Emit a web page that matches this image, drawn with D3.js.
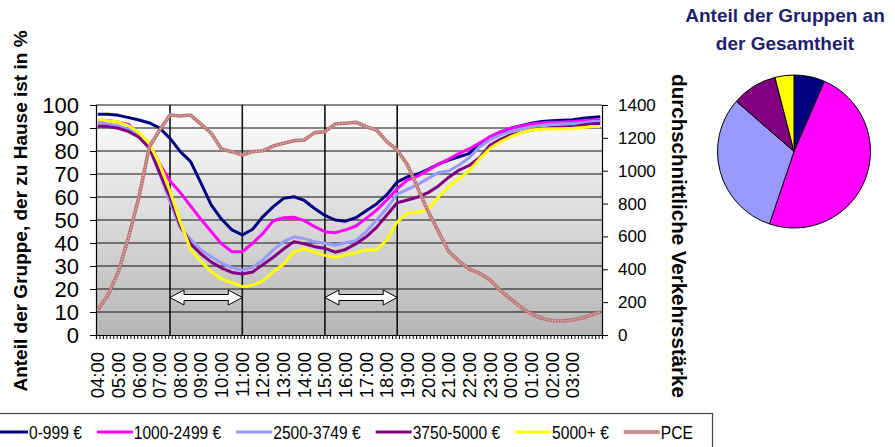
<!DOCTYPE html>
<html>
<head>
<meta charset="utf-8">
<script src="https://cdn.jsdelivr.net/npm/d3@7/dist/d3.min.js"></script>
<style>
  body { margin: 0; background: #fff; }
  svg { display: block; }
  text { font-family: "Liberation Sans", Arial, sans-serif; fill: #000; }
</style>
</head>
<body>
<svg id="chart" width="895" height="447"></svg>
<script>
// ---- data -------------------------------------------------------------
const hourLabels = ["04:00","05:00","06:00","07:00","08:00","09:00","10:00","11:00",
  "12:00","13:00","14:00","15:00","16:00","17:00","18:00","19:00","20:00","21:00",
  "22:00","23:00","00:00","01:00","02:00","03:00"];

const sampleTimes = ["04:00","04:30","05:00","05:30","06:00","06:30","07:00","07:30",
  "08:00","08:30","09:00","09:30","10:00","10:30","11:00","11:30","12:00","12:30",
  "13:00","13:30","14:00","14:30","15:00","15:30","16:00","16:30","17:00","17:30",
  "18:00","18:30","19:00","19:30","20:00","20:30","21:00","21:30","22:00","22:30",
  "23:00","23:30","00:00","00:30","01:00","01:30","02:00","02:30","03:00","03:30",
  "04:00","04:20"];

const groupNames  = ["0-999 €","1000-2499 €","2500-3749 €","3750-5000 €","5000+ €"];
const groupColors = ["#000080","#ff00ff","#9999ff","#800080","#ffff00"];

const home0to999 = [96,96,95.5,94.5,93.5,92.2,90,85.5,79.7,75.4,66,56.5,50.3,45.7,43.5,46,
  51.5,55.8,59.4,60.1,58.5,55,52,50,49.5,51,54,57,61,66.5,68.8,70,72,74.3,76,77.5,79,
  83.2,86.2,88,89.9,91,92.1,92.8,93.2,93.4,93.6,94.2,94.7,94.9];
const home1000to2499 = [93.5,93.3,92.5,91.5,87,83,74.5,67,61.9,56,50.3,44.9,39.6,36.2,36.2,
  39.9,44.2,49.7,51,51.2,49.7,47.1,44.9,44.5,45.7,47.4,50.7,54.3,58.7,63.6,67.4,69.1,71.7,
  74.3,76.5,79,81,83.6,86.2,88.4,89.9,90.9,91.7,92.2,92.5,92.6,92.8,93.2,93.5,93.5];
const home2500to3749 = [92.3,91.7,90.9,89.4,87,82.6,70,58,46.5,41.6,37,34,31.2,29.3,28.3,
  29.4,32.6,37,40.6,42.7,41.9,40.6,39.9,39,40.1,41,44.9,50,55.1,61.3,63.3,65.5,68.1,70.6,
  71.4,73.9,77.2,81.9,84.8,87,88.4,89.6,90.6,91.2,91.6,91.9,92,92.3,92.8,92.8];
const home3750to5000 = [90.9,90.6,89.9,88.4,86,81.2,70.5,60,47.5,39.6,35.2,31.7,29.1,27.2,
  26.5,27.4,30.6,33.8,37.4,40.6,39.7,38.4,37.7,36,37.2,39.6,42.7,46.8,52.2,57.5,58.7,60,
  61.9,64.8,68.6,71.7,73.8,77.2,82.6,85.1,87,88.1,89.1,89.7,90.2,90.4,90.6,91.3,91.9,92];
const home5000plus = [93.8,93.2,92.6,90.9,88,83.3,74.3,62.5,49,37.2,31.9,27.5,24.3,22.8,21,
  21.6,23.5,27.5,30.9,36.2,37.5,36.1,34.6,33.8,34.8,35.8,37,37,41.3,49.3,52.9,53.5,54.6,
  60.1,64.5,68.1,71.4,76.8,81.2,84,86.2,88,89.1,89.6,89.7,89.7,89.9,90.2,90.6,90.6];
const pceTraffic = [152,243,385,598,842,1146,1248,1339,1333,1339,1284,1228,1130,1116,1096,
  1116,1122,1150,1167,1183,1187,1232,1238,1284,1289,1295,1268,1248,1177,1126,1035,893,
  751,629,507,450,400,375,335,270,219,168,128,102,87,85,91,105,126,140];

const pieShares = [6.5, 48.7, 31.2, 9.6, 4.0];
const leftTicks  = [0,10,20,30,40,50,60,70,80,90,100];
const rightTicks = [0,200,400,600,800,1000,1200,1400];
const markerTimes = ["07:30","11:00","15:00","18:30"];

// ---- layout -----------------------------------------------------------
const svg = d3.select("#chart");
const plot = { left: 96, right: 602, top: 105, bottom: 335 };
const slotCount = 147;                 // 10-minute slots starting at 04:00
const slots = d3.range(slotCount);

// time "HH:MM" -> 10-minute slot index counted from 04:00, running past midnight
function toSlots(times) {
  let prev = -1;
  return times.map(t => {
    const [h, m] = t.split(":").map(Number);
    let s = (((h * 60 + m) - 240 + 1440) % 1440) / 10;
    while (s <= prev) s += 144;
    prev = s;
    return s;
  });
}
const sampleSlots = toSlots(sampleTimes);
const markerSlots = toSlots(markerTimes);

const xBand = d3.scaleBand().domain(slots).range([plot.left, plot.right]).padding(0);
const xEdge = d3.scaleLinear().domain([0, slotCount]).range([plot.left, plot.right]);
const xAt = s => xBand(s) + xBand.bandwidth() / 2;
const y = d3.scaleLinear().domain([0, 100]).range([plot.bottom, plot.top]);
const y2 = d3.scaleLinear().domain([0, 1400]).range([plot.bottom, plot.top]);

// ---- plot background --------------------------------------------------
const defs = svg.append("defs");
const grad = defs.append("linearGradient").attr("id", "bg")
  .attr("x1", 0).attr("y1", 0).attr("x2", 0).attr("y2", 1);
grad.append("stop").attr("offset", 0).attr("stop-color", "#ffffff");
grad.append("stop").attr("offset", 1).attr("stop-color", "#b6b6b6");

svg.append("rect")
  .attr("x", plot.left).attr("y", plot.top)
  .attr("width", plot.right - plot.left).attr("height", plot.bottom - plot.top)
  .attr("fill", "url(#bg)");

// horizontal gridlines
svg.append("g").selectAll("line").data(leftTicks.filter(d => d > 0)).join("line")
  .attr("x1", plot.left).attr("x2", plot.right)
  .attr("y1", d => y(d)).attr("y2", d => y(d))
  .attr("stroke", "#111").attr("stroke-width", 1);

// vertical period markers
svg.append("g").selectAll("line").data(markerSlots).join("line")
  .attr("x1", d => xAt(d)).attr("x2", d => xAt(d))
  .attr("y1", plot.top).attr("y2", plot.bottom)
  .attr("stroke", "#111").attr("stroke-width", 1.6);

// ---- axes -------------------------------------------------------------
const axisLeft = svg.append("g").attr("transform", `translate(${plot.left},0)`)
  .call(d3.axisLeft(y).tickValues(leftTicks).tickSize(6).tickPadding(11).tickFormat(d3.format("d")));
axisLeft.selectAll("text").style("font-size", "22px");

const axisRight = svg.append("g").attr("transform", `translate(${plot.right},0)`)
  .call(d3.axisRight(y2).tickValues(rightTicks).tickSize(6).tickPadding(10).tickFormat(d3.format("d")));
axisRight.selectAll("text").style("font-size", "17px");

const axisMinor = svg.append("g").attr("transform", `translate(0,${plot.bottom})`)
  .call(d3.axisBottom(xEdge).tickValues(d3.range(slotCount + 1)).tickSize(4).tickFormat(""));

const labelSlots = hourLabels.map((_, i) => i * 6);
const axisHours = svg.append("g").attr("transform", `translate(0,${plot.bottom})`)
  .call(d3.axisBottom(xBand).tickValues(labelSlots).tickSize(0)
    .tickFormat((d, i) => hourLabels[i]));
axisHours.select(".domain").remove();
axisHours.selectAll("text")
  .attr("transform", "rotate(-90)")
  .attr("x", -17).attr("y", 0).attr("dy", "0.35em")
  .attr("text-anchor", "end")
  .style("font-size", "18.5px");

[axisLeft, axisRight, axisMinor].forEach(g => {
  g.selectAll("path.domain").attr("stroke", "#000").attr("stroke-width", 1.2);
  g.selectAll(".tick line").attr("stroke", "#000");
});
axisLeft.selectAll("text").attr("fill", "#000");
axisRight.selectAll("text").attr("fill", "#000");
axisHours.selectAll("text").attr("fill", "#000");

// ---- series -----------------------------------------------------------
const groupSeries = [home0to999, home1000to2499, home2500to3749, home3750to5000, home5000plus];
const lineY = d3.line().x((d, i) => xAt(sampleSlots[i])).y(d => y(d));
const lineY2 = d3.line().x((d, i) => xAt(sampleSlots[i])).y(d => y2(d));

const seriesG = svg.append("g");
groupSeries.forEach((vals, k) => {
  seriesG.append("path").datum(vals)
    .attr("d", lineY)
    .attr("fill", "none")
    .attr("stroke", groupColors[k])
    .attr("stroke-width", 3)
    .attr("stroke-linejoin", "round");
});

// traffic volume on the secondary axis, textured line
seriesG.append("path").datum(pceTraffic).attr("d", lineY2)
  .attr("fill", "none").attr("stroke", "#bb7474").attr("stroke-width", 3.6)
  .attr("stroke-linejoin", "round");
seriesG.append("path").datum(pceTraffic).attr("d", lineY2)
  .attr("fill", "none").attr("stroke", "#e6c0c0").attr("stroke-width", 1.4)
  .attr("stroke-dasharray", "1.2,1.6");

// double-headed arrows between the markers
function arrowPath(x1, x2, yc) {
  const hl = 14, hh = 7.5, sh = 3;
  return `M${x1},${yc} L${x1 + hl},${yc - hh} L${x1 + hl},${yc - sh} L${x2 - hl},${yc - sh}
    L${x2 - hl},${yc - hh} L${x2},${yc} L${x2 - hl},${yc + hh} L${x2 - hl},${yc + sh}
    L${x1 + hl},${yc + sh} L${x1 + hl},${yc + hh} Z`;
}
const arrowLevel = 16.3;
[[0, 1], [2, 3]].forEach(([a, b]) => {
  svg.append("path")
    .attr("d", arrowPath(xAt(markerSlots[a]), xAt(markerSlots[b]), y(arrowLevel)))
    .attr("fill", "#fff").attr("stroke", "#000").attr("stroke-width", 1);
});

// ---- axis titles ------------------------------------------------------
svg.append("text")
  .attr("transform", "translate(20,211) rotate(-90)")
  .attr("text-anchor", "middle").attr("dy", "0.35em")
  .style("font-size", "19px").style("font-weight", "bold")
  .text("Anteil der Gruppe, der zu Hause ist in %");

svg.append("text")
  .attr("transform", "translate(679,236) rotate(90)")
  .attr("text-anchor", "middle").attr("dy", "0.35em")
  .style("font-size", "20.5px").style("font-weight", "bold")
  .text("durchschnittliche Verkehrsstärke");

// ---- pie --------------------------------------------------------------
const pieTitle = ["Anteil der Gruppen an", "der Gesamtheit"];
svg.append("g").selectAll("text").data(pieTitle).join("text")
  .attr("x", 785).attr("y", (d, i) => 22 + i * 28)
  .attr("text-anchor", "middle")
  .style("font-size", "19px").style("font-weight", "bold").style("fill", "#1f1f6e")
  .text(d => d);

const pie = d3.pie().sort(null).value(d => d);
const arc = d3.arc().innerRadius(0).outerRadius(76.5);
svg.append("g").attr("transform", "translate(794,151.5)")
  .selectAll("path").data(pie(pieShares)).join("path")
  .attr("d", arc)
  .attr("fill", (d, i) => groupColors[i])
  .attr("stroke", "#000").attr("stroke-width", 1);

// ---- legend -----------------------------------------------------------
svg.append("rect")
  .attr("x", -2).attr("y", 413.5).attr("width", 714.5).attr("height", 40)
  .attr("fill", "#fff").attr("stroke", "#444").attr("stroke-width", 1.2);

const legendItems = groupNames.map((n, i) => ({ name: n, color: groupColors[i], pce: false }))
  .concat([{ name: "PCE", color: "#bb7474", pce: true }]);

// narrow legend face: use the condensed family when present, else squeeze the regular one
const probe = svg.append("text").style("font-size", "19px");
probe.style("font-family", "'Liberation Sans Narrow'").text("1000-2499 €");
const wNarrow = probe.node().getComputedTextLength();
probe.style("font-family", "'Liberation Sans'");
const wRegular = probe.node().getComputedTextLength();
probe.remove();
const hasNarrow = wNarrow < wRegular * 0.9;
const squeeze = hasNarrow ? 1 : 0.82;

const legendG = svg.append("g");
let lx = -8;
const ly = 432;
legendItems.forEach(item => {
  legendG.append("line")
    .attr("x1", lx).attr("x2", lx + 36).attr("y1", ly).attr("y2", ly)
    .attr("stroke", item.color).attr("stroke-width", item.pce ? 3.6 : 3);
  if (item.pce) {
    legendG.append("line")
      .attr("x1", lx).attr("x2", lx + 36).attr("y1", ly).attr("y2", ly)
      .attr("stroke", "#e6c0c0").attr("stroke-width", 1.4).attr("stroke-dasharray", "1.2,1.6");
  }
  const t = legendG.append("text")
    .attr("transform", `translate(${lx + 37},${ly}) scale(${squeeze},1)`)
    .attr("dy", "0.35em")
    .style("font-size", "19px")
    .style("font-family", hasNarrow ? "'Liberation Sans Narrow'" : "'Liberation Sans'")
    .text(item.name);
  lx += 37 + t.node().getComputedTextLength() * squeeze + 15;
});
</script>
</body>
</html>
